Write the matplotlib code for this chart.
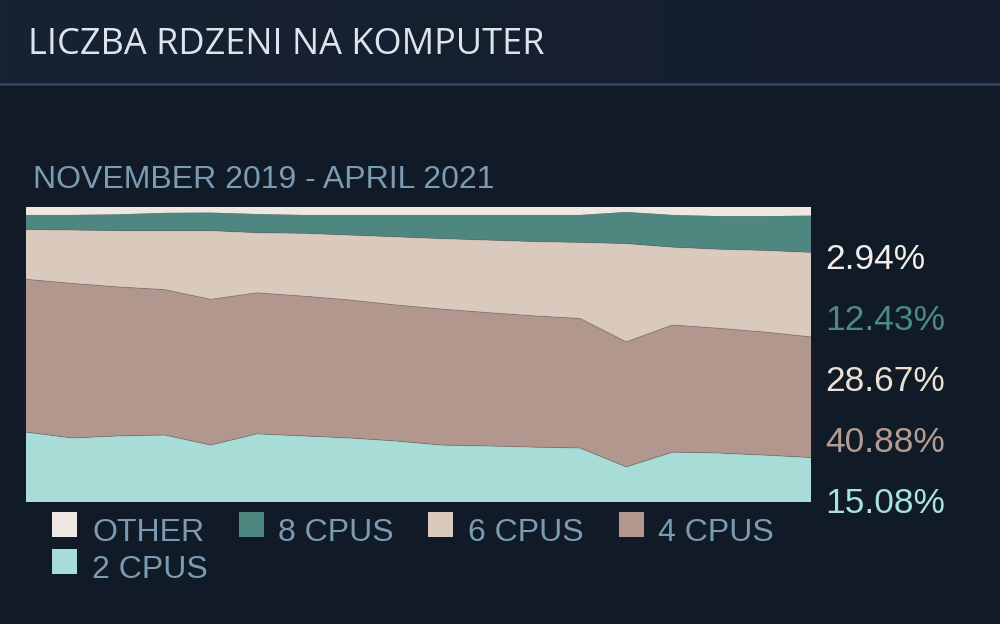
import numpy as np
import matplotlib.pyplot as plt
from matplotlib.colors import LinearSegmentedColormap
from matplotlib.patches import Rectangle

# monthly shares (percent), Nov 2019 .. Apr 2021
months = ["2019-11", "2019-12", "2020-01", "2020-02", "2020-03", "2020-04",
          "2020-05", "2020-06", "2020-07", "2020-08", "2020-09", "2020-10",
          "2020-11", "2020-12", "2021-01", "2021-02", "2021-03", "2021-04"]
cpu2 = [23.7, 21.7, 22.4, 22.7, 19.3, 23.1, 22.4, 21.7, 20.7, 19.3, 19.0, 18.6,
        18.3, 11.9, 16.9, 16.6, 15.9, 15.08]
cpu4 = [51.8, 52.4, 50.5, 49.3, 49.4, 47.8, 47.4, 46.8, 46.1, 46.1, 45.2, 44.5,
        43.9, 42.4, 43.1, 42.3, 41.7, 40.88]
cpu6 = [16.9, 18.1, 19.1, 20.0, 23.3, 20.4, 21.3, 22.0, 23.1, 23.9, 24.6, 25.2,
        25.8, 33.3, 26.4, 26.8, 27.7, 28.67]
cpu8 = [4.9, 5.1, 5.5, 6.0, 6.1, 6.3, 6.2, 6.8, 7.4, 8.0, 8.5, 9.0,
        9.3, 10.7, 10.9, 11.2, 11.6, 12.43]
other = [2.7, 2.7, 2.5, 2.0, 1.9, 2.4, 2.7, 2.7, 2.7, 2.7, 2.7, 2.7,
         2.7, 1.7, 2.7, 3.1, 3.1, 2.94]

labels = ["2 CPUS", "4 CPUS", "6 CPUS", "8 CPUS", "OTHER"]
colors = ["#a8ddd7", "#b1978d", "#dacabd", "#4e877f", "#efe8e2"]
text_colors = ["#a9e2da", "#b59c92", "#ece0d3", "#4e8a80", "#f3eee9"]

W, H = 1000, 624
fig = plt.figure(figsize=(W / 100, H / 100), dpi=100)
fig.patch.set_facecolor("#111b28")

def fx(px):
    return px / W

def fy(py):
    return 1 - py / H

# header band (soft gradient) + separator
grad = np.linspace(0, 1, 256)[None, :]
hdr = fig.add_axes([0, fy(84), 1, 84 / H], zorder=0)
hdr.imshow(grad, aspect="auto", extent=[0, 1, 0, 1],
           cmap=LinearSegmentedColormap.from_list("hdr", ["#172232", "#141e2d"]))
hdr.axis("off")
fig.add_artist(plt.Line2D([0, 1], [fy(84), fy(84)], transform=fig.transFigure,
                          color="#2c4866", lw=1.8))

font = "Liberation Sans"
fig.text(fx(28), fy(54), "LICZBA RDZENI NA KOMPUTER", family=["Open Sans", font],
         fontsize=26, color="#dde4ec", va="baseline", ha="left")
fig.text(fx(33), fy(188), "NOVEMBER 2019 - APRIL 2021", family=font, fontsize=23,
         color="#7b9bb2", va="baseline", ha="left")

ax = fig.add_axes([fx(26), fy(502), fx(811) - fx(26), (502 - 207) / H])
x = np.arange(len(months))
series = [cpu2, cpu4, cpu6, cpu8, other]
ax.stackplot(x, *series, colors=colors, linewidth=0)
cum = np.cumsum(np.array(series), axis=0)
for row in cum[:3]:
    ax.plot(x, row, color="#6f6560", lw=0.7, alpha=0.45)
ax.set_xlim(0, len(months) - 1)
ax.set_ylim(0, 100)
ax.axis("off")

# end values on the right, top to bottom
baselines = [269, 330, 391, 452, 513]
for i, b in zip([4, 3, 2, 1, 0], baselines):
    fig.text(fx(825), fy(b), f"{series[i][-1]:.2f}%", family=font, fontsize=25.5,
             color=text_colors[i], va="baseline", ha="left")

# legend, drawn by hand to keep Steam's layout
legend_items = [(4, 52, 92, 512), (3, 239, 278, 512), (2, 428, 468, 512),
                (1, 619, 658, 512), (0, 52, 92, 549)]
for i, sx, tx, top in legend_items:
    fig.patches.append(Rectangle((fx(sx), fy(top + 25)), 25 / W, 25 / H,
                                 transform=fig.transFigure, facecolor=colors[i],
                                 edgecolor="none"))
    fig.text(fx(tx), fy(top + 29), labels[i], family=font, fontsize=23,
             color="#7b9bb2", va="baseline", ha="left")

fig.savefig("out.png", dpi=100, facecolor=fig.get_facecolor())
